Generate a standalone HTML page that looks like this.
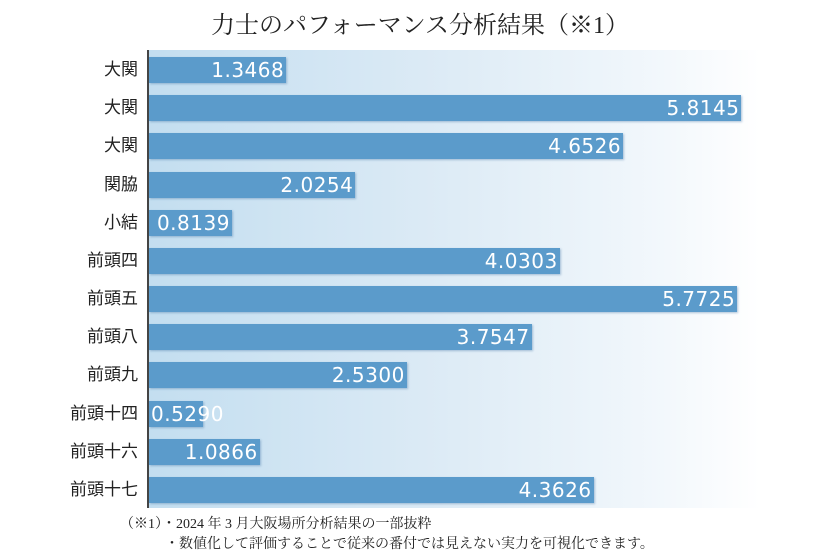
<!DOCTYPE html>
<html><head><meta charset="utf-8"><style>
body{margin:0;width:840px;height:560px;background:#fff;overflow:hidden;position:relative;font-family:"Liberation Serif","Noto Serif CJK SC",serif}
.t{position:absolute;top:5px;left:0;width:840px;text-align:center;font-size:24px;color:#222}
.plot{position:absolute;left:148px;top:50px;width:612px;height:458px;background:linear-gradient(90deg,#c3def0 0%,#dbeaf5 45%,#f3f8fc 85%,#fff 100%)}
.ax{position:absolute;left:147px;top:50px;width:2px;height:458px;background:#444}
.bar{position:absolute;left:149px;height:26px;background:#5b9bcb;box-shadow:1px 1px 2px rgba(60,110,160,.4)}
.bar span{position:absolute;right:2px;top:0;line-height:26px;font-family:"DejaVu Sans",sans-serif;font-size:20px;color:#fff;letter-spacing:0.5px}
.lab{position:absolute;right:702px;font-family:"Liberation Sans","Noto Sans CJK JP",sans-serif;font-size:17px;color:#222;line-height:20px}
.fn{position:absolute;left:120px;font-size:14px;color:#222;font-family:"Liberation Serif","Noto Serif CJK JP",serif}
</style></head><body>
<div class="t">力士のパフォーマンス分析結果（※1）</div>
<div class="plot"></div>
<div class="ax"></div>
<div id="c"></div>
<div class="fn" style="top:513px">（※1）・2024 年 3 月大阪場所分析結果の一部抜粋</div>
<div class="fn" style="top:533px;left:165px">・数値化して評価することで従来の番付では見えない実力を可視化できます。</div>
<script>
var d=[["大関",1.3468],["大関",5.8145],["大関",4.6526],["関脇",2.0254],["小結",0.8139],["前頭四",4.0303],["前頭五",5.7725],["前頭八",3.7547],["前頭九",2.5300],["前頭十四",0.5290],["前頭十六",1.0866],["前頭十七",4.3626]];
var h="";d.forEach(function(r,i){var c=70+i*38.18;var w=r[1]*101.9;
h+='<div class="lab" style="top:'+(c-10)+'px">'+r[0]+'</div>';
h+='<div class="bar" style="top:'+(c-13)+'px;width:'+w+'px"><span'+(w<60?' style="left:2px;right:auto;white-space:nowrap"':'')+'>'+r[1].toFixed(4)+'</span></div>';});
document.getElementById("c").innerHTML=h;
</script>
</body></html>
